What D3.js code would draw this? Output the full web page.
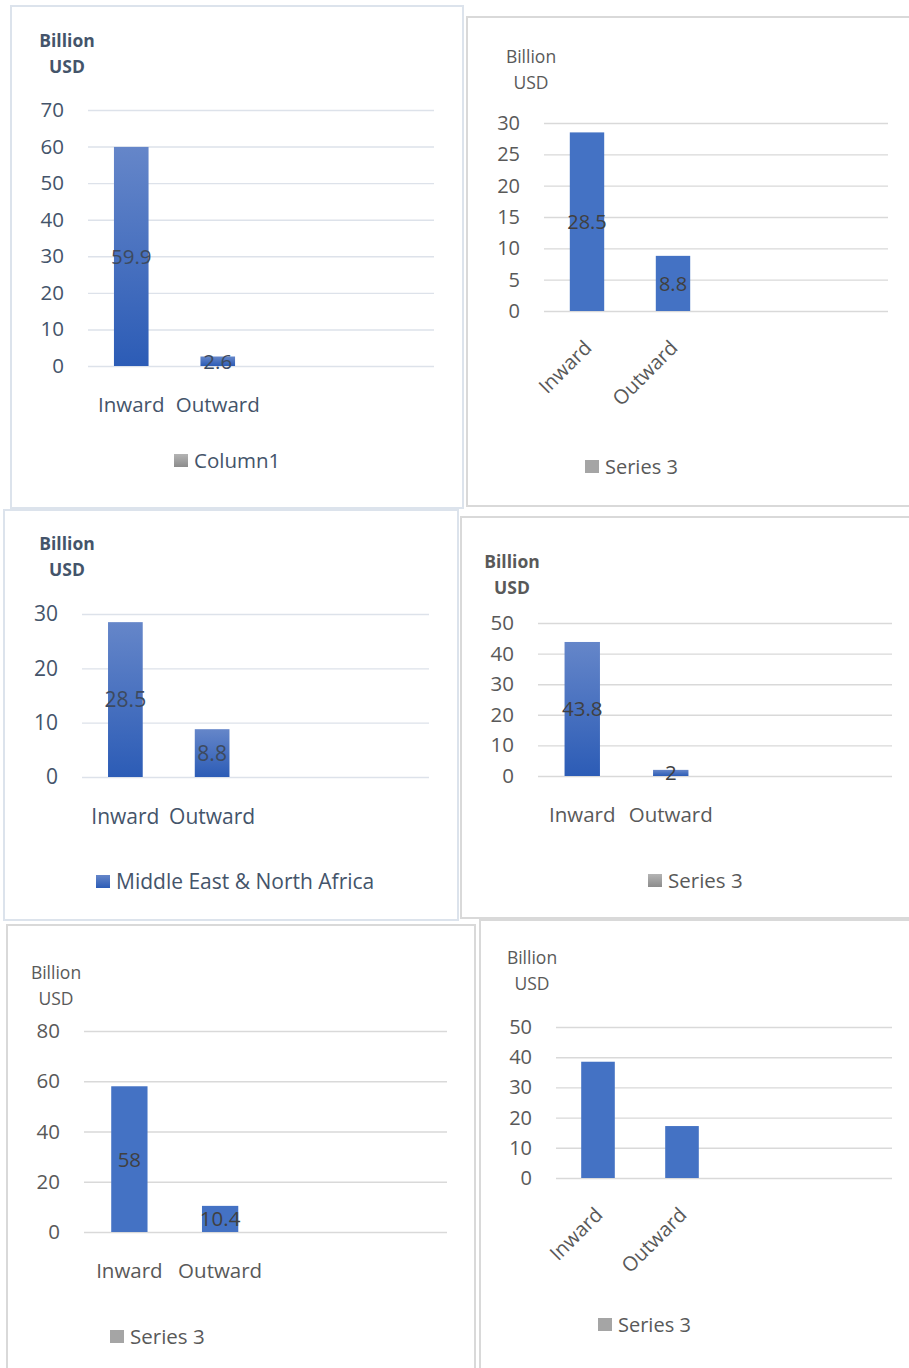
<!DOCTYPE html>
<html>
<head>
<meta charset="utf-8">
<script src="https://cdn.jsdelivr.net/npm/d3@7/dist/d3.min.js"></script>
<style>
    body { margin: 0; background: #fff; }
    svg { display: block; font-family: 'Open Sans', sans-serif; }
</style>
</head>
<body>
<svg id="charts" width="909" height="1368"></svg>
<script>
// values, in reading order
const categories = ['Inward', 'Outward'];
const emptySlots = ['e1', 'e2'];
const inward = [59.9, 28.5, 28.5, 43.8, 58, 38.5];
const outward = [2.6, 8.8, 8.8, 2, 10.4, 17.2];
const yMax = [70, 30, 30, 50, 80, 50];
const yStep = [10, 5, 10, 10, 20, 10];
const legendNames = ['Column1', 'Series 3', 'Middle East & North Africa', 'Series 3', 'Series 3', 'Series 3'];
const showLabels = [true, true, true, true, true, false];
const titleLines = ['Billion', 'USD'];

// where every panel sits and how it looks
const layout = [
    {box: [11, 6, 452, 502], plot: [88, 110, 434, 366], title: [67, 41], catY: 405, rotate: false,
        legend: [174, 454], theme: 'slate', bold: true, bars: 'url(#barGrad)', swatch: 'url(#greyGrad)', fs: 20.5},
    {box: [467, 17, 460, 489], plot: [544, 123, 888, 311], title: [531, 57], catY: 0, rotate: true,
        legend: [585, 460], theme: 'grey', bold: false, bars: '#4472c4', swatch: '#a5a5a5', fs: 20},
    {box: [4, 510, 454, 410], plot: [82, 614, 429, 777], title: [67, 544], catY: 817, rotate: false,
        legend: [96, 875], theme: 'slate', bold: true, bars: 'url(#barGrad)', swatch: 'url(#barGrad)', fs: 21},
    {box: [461, 517, 460, 401], plot: [538, 623, 892, 776], title: [512, 562], catY: 815, rotate: false,
        legend: [648, 874], theme: 'grey', bold: true, bars: 'url(#barGrad)', swatch: 'url(#greyGrad)', fs: 20.5},
    {box: [7, 925, 468, 460], plot: [84, 1031, 447, 1232], title: [56, 973], catY: 1271, rotate: false,
        legend: [110, 1330], theme: 'grey', bold: false, bars: '#4472c4', swatch: '#a5a5a5', fs: 20.5},
    {box: [480, 920, 440, 460], plot: [556, 1027, 892, 1178], title: [532, 958], catY: 0, rotate: true,
        legend: [598, 1318], theme: 'grey', bold: false, bars: '#4472c4', swatch: '#a5a5a5', fs: 20}
];

const themes = {
    'slate': {text: '#44546a', label: '#3d4a5e', border: '#dce3ec', grid: '#dde2ea'},
    'grey': {text: '#595959', label: '#404040', border: '#d9d9d9', grid: '#d9d9d9'}
};

const svg = d3.select('svg#charts');

// gradients used by the "office" style panels
const defs = svg.append('defs');
function add_gradient(id, top, bottom) {
    let g = defs.append('linearGradient')
        .attr('id', id)
        .attr('x1', 0).attr('y1', 0)
        .attr('x2', 0).attr('y2', 1);
    g.append('stop').attr('offset', '0%').attr('stop-color', top);
    g.append('stop').attr('offset', '100%').attr('stop-color', bottom);
}
add_gradient('barGrad', '#6586c9', '#2c5cb6');
add_gradient('greyGrad', '#b4b4b4', '#8c8c8c');

function draw_panel(i) {
    const L = layout[i];
    const th = themes[L.theme];
    const fs = L.fs + 'px';
    const [gx0, gy0, gx1, gy1] = L.plot;
    const data = categories.map((c, k) => ({cat: c, value: [inward[i], outward[i]][k]}));

    let g = svg.append('g').attr('class', 'panel');

    g.append('rect')
        .attr('x', L.box[0])
        .attr('y', L.box[1])
        .attr('width', L.box[2])
        .attr('height', L.box[3])
        .style('fill', '#fff')
        .style('stroke', th.border)
        .style('stroke-width', 2);

    // first the scales
    let x = d3.scaleBand()
        .domain(categories.concat(emptySlots))
        .range([gx0, gx1])
        .paddingInner(0.6)
        .paddingOuter(0.3);
    let y = d3.scaleLinear()
        .domain([0, yMax[i]])
        .range([gy1, gy0]);

    // axis title, two lines
    g.append('text')
        .attr('x', L.title[0])
        .attr('y', L.title[1])
        .attr('text-anchor', 'middle')
        .style('font-size', L.bold ? '17.5px' : '17.5px')
        .style('font-weight', L.bold ? 700 : 400)
        .style('fill', th.text)
        .selectAll('tspan')
        .data(titleLines)
        .enter()
        .append('tspan')
        .attr('x', L.title[0])
        .attr('dy', (d, k) => k === 0 ? '0.35em' : '26px')
        .text(d => d);

    // gridlines + tick labels
    let yAxis = g.append('g')
        .attr('transform', 'translate(' + gx0 + ',0)')
        .call(d3.axisLeft(y)
            .tickValues(d3.range(0, yMax[i] + yStep[i] / 2, yStep[i]))
            .tickSize(-(gx1 - gx0))
            .tickPadding(24));
    yAxis.select('.domain').remove();
    yAxis.selectAll('line')
        .style('stroke', th.grid)
        .style('stroke-width', 1.4);
    yAxis.selectAll('text')
        .style('font-size', fs)
        .style('font-family', "'Open Sans', sans-serif")
        .style('fill', th.text);

    g.selectAll('rect.bar')
        .data(data)
        .enter()
        .append('rect')
        .attr('class', 'bar')
        .attr('x', d => x(d.cat))
        .attr('width', x.bandwidth())
        .attr('y', d => y(d.value))
        .attr('height', d => y(0) - y(d.value))
        .style('fill', L.bars);

    if (showLabels[i]) {
        g.selectAll('text.value')
            .data(data)
            .enter()
            .append('text')
            .attr('class', 'value')
            .attr('x', d => x(d.cat) + x.bandwidth() / 2)
            .attr('y', d => (y(0) + y(d.value)) / 2)
            .attr('dy', '0.36em')
            .attr('text-anchor', 'middle')
            .style('font-size', fs)
            .style('fill', th.label)
            .text(d => d.value);
    }

    // category names, flat or tilted
    let cats = g.selectAll('text.cat')
        .data(categories)
        .enter()
        .append('text')
        .attr('class', 'cat')
        .style('font-size', fs)
        .style('fill', th.text)
        .text(d => d);
    if (L.rotate) {
        cats.attr('text-anchor', 'end')
            .attr('transform', d => 'translate(' + (x(d) + x.bandwidth() / 2 + 6) + ',' + (gy1 + 38) + ') rotate(-45)');
    } else {
        cats.attr('text-anchor', 'middle')
            .attr('x', d => x(d) + x.bandwidth() / 2)
            .attr('y', L.catY)
            .attr('dy', '0.35em');
    }

    // legend
    g.append('rect')
        .attr('x', L.legend[0])
        .attr('y', L.legend[1])
        .attr('width', 14)
        .attr('height', 13)
        .style('fill', L.swatch);
    g.append('text')
        .attr('x', L.legend[0] + 20)
        .attr('y', L.legend[1] + 6.5)
        .attr('dy', '0.35em')
        .style('font-size', fs)
        .style('fill', th.text)
        .text(legendNames[i]);
}

layout.forEach((l, i) => draw_panel(i));
</script>
</body>
</html>
